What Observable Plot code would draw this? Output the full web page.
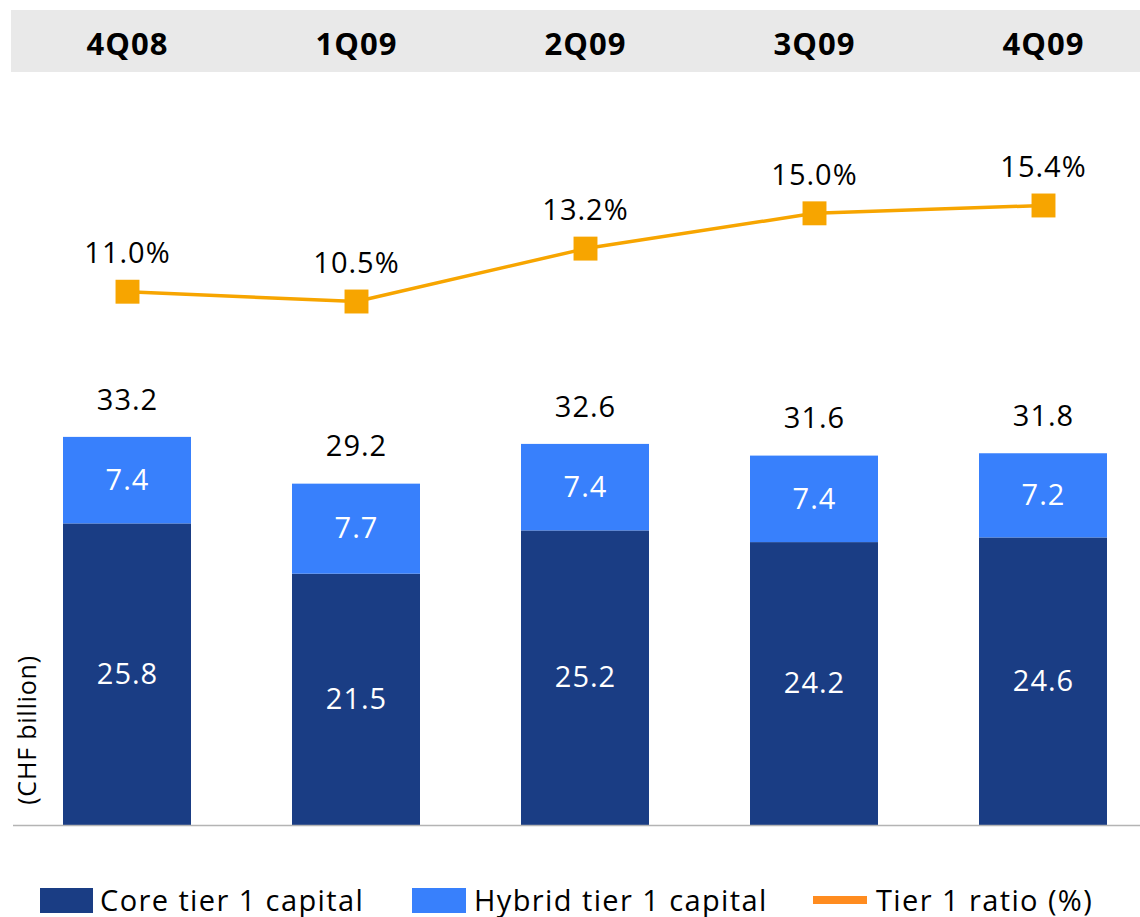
<!DOCTYPE html>
<html><head><meta charset="utf-8">
<script src="https://cdn.jsdelivr.net/npm/d3@7"></script>
<script src="https://cdn.jsdelivr.net/npm/@observablehq/plot@0.6"></script>
<style>
body{margin:0;background:#fff;font-family:"Open Sans",sans-serif;color:#000;}
#wrap{position:relative;width:1140px;height:917px;overflow:hidden;}
#band{position:absolute;left:11px;top:10px;width:1129px;height:62px;background:#e9e9e9;}
#chart{position:absolute;left:0;top:0;}
#ylabel{position:absolute;left:26px;top:730px;transform:translate(-50%,-50%) rotate(-90deg);font-size:25px;letter-spacing:0.8px;white-space:nowrap;}
.item{position:absolute;top:881px;height:36px;display:flex;align-items:center;font-size:29px;letter-spacing:1.4px;white-space:nowrap;}
.sw{position:absolute;}
</style></head>
<body><div id="wrap"><div id="band"></div><div id="chart"></div><div id="ylabel">(CHF billion)</div><div id="legend"></div></div>
<script>
const quarters = ["4Q08","1Q09","2Q09","3Q09","4Q09"];
const coreTier1 = [25.8,21.5,25.2,24.2,24.6];
const hybridTier1 = [7.4,7.7,7.4,7.4,7.2];
const totalTier1 = [33.2,29.2,32.6,31.6,31.8];
const tier1Ratio = [11.0,10.5,13.2,15.0,15.4];
const seriesNames = ["Core tier 1 capital","Hybrid tier 1 capital","Tier 1 ratio (%)"];
const colors = {core:"#1a3d84", hybrid:"#3880fc", line:"#f7a500", lineLegend:"#ff8c1f"};

const rows = [];
quarters.forEach((q,i)=>{
  rows.push({quarter:q, series:seriesNames[0], value:coreTier1[i]});
  rows.push({quarter:q, series:seriesNames[1], value:hybridTier1[i]});
});
const totals = quarters.map((q,i)=>({quarter:q, value:totalTier1[i]}));
// secondary (ratio) axis mapped onto the CHF axis
const ratioAxis = d3.scaleLinear().domain([0,20]).range([27.22,60.75]);
const ratios = quarters.map((q,i)=>({quarter:q, ratio:tier1Ratio[i], y:ratioAxis(tier1Ratio[i])}));

const FONT = '"Open Sans", sans-serif';
const chart = Plot.plot({
  width:1140, height:917,
  marginTop:72, marginBottom:92, marginLeft:13, marginRight:0,
  style:{fontFamily:FONT, background:"transparent", color:"#000", letterSpacing:"1px"},
  x:{domain:quarters, range:[13,1157], paddingInner:0.442, paddingOuter:0.2135, axis:null},
  y:{domain:[0,60], range:[825, 825-60*11.69], axis:null},
  color:{domain:seriesNames.slice(0,2), range:[colors.core, colors.hybrid]},
  marks:[
    Plot.axisX({anchor:"top", tickSize:0, tickPadding:18, fontSize:31, fontWeight:"bold", label:null}),
    Plot.barY(rows, {x:"quarter", y:"value", fill:"series"}),
    Plot.text(rows, Plot.stackY({x:"quarter", y:"value", z:"series", text:d=>d.value.toFixed(1), fill:"white", fontSize:29})),
    Plot.text(totals, {x:"quarter", y:"value", text:d=>d.value.toFixed(1), dy:-37, fontSize:29, fill:"black"}),
    Plot.ruleY([0], {stroke:"#b4b4b4", strokeWidth:1.5}),
    Plot.line(ratios, {x:"quarter", y:"y", stroke:colors.line, strokeWidth:3.5}),
    Plot.dot(ratios, {x:"quarter", y:"y", symbol:"square", r:13.5, fill:colors.line, stroke:"none"}),
    Plot.text(ratios, {x:"quarter", y:"y", text:d=>d.ratio.toFixed(1)+"%", dy:-38, fontSize:29, fill:"black"})
  ]
});
document.getElementById("chart").appendChild(chart);

const legend = document.getElementById("legend");
const items = [
  {label:seriesNames[0], left:40, textLeft:100, sw:{w:53,h:25,bg:colors.core}},
  {label:seriesNames[1], left:412, textLeft:474, sw:{w:54,h:25,bg:colors.hybrid}},
  {label:seriesNames[2], left:813, textLeft:876, sw:{w:54,h:8,bg:colors.lineLegend}}
];
items.forEach(it=>{
  const s=document.createElement("div");
  s.className="sw";
  s.style.left=it.left+"px"; s.style.width=it.sw.w+"px"; s.style.height=it.sw.h+"px";
  s.style.top=(900-it.sw.h/2)+"px"; s.style.background=it.sw.bg;
  legend.appendChild(s);
  const t=document.createElement("div");
  t.className="item"; t.style.left=it.textLeft+"px"; t.textContent=it.label;
  legend.appendChild(t);
});
</script></body></html>
